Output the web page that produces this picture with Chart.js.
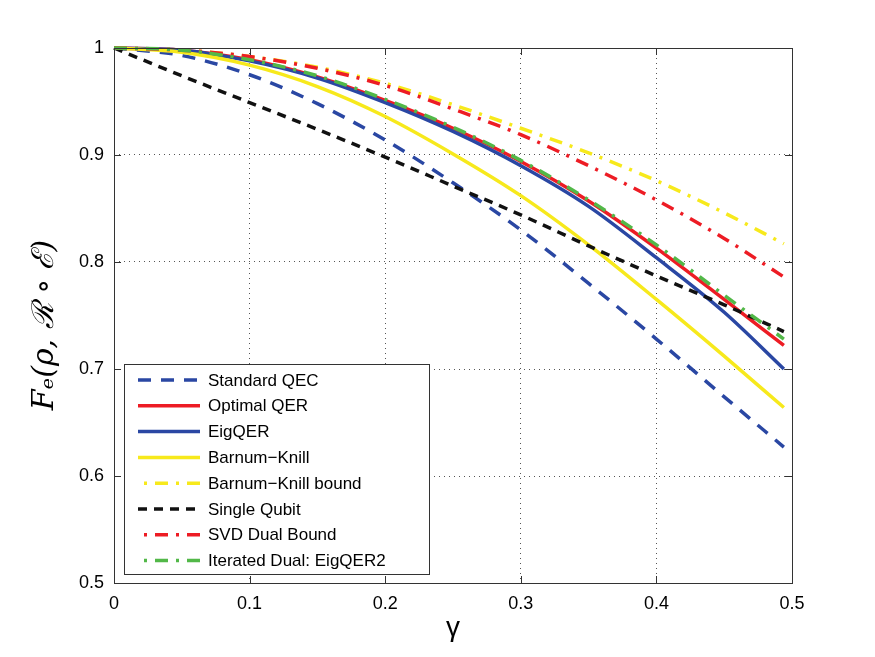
<!DOCTYPE html>
<html>
<head>
<meta charset="utf-8">
<script src="https://cdn.jsdelivr.net/npm/chart.js@4.4.1/dist/chart.umd.min.js"></script>
<style>
  html, body { margin: 0; padding: 0; background: #fff; }
  #wrap { width: 875px; height: 657px; position: relative; }
</style>
</head>
<body>
<div id="wrap"><canvas id="fidelityChart"></canvas></div>
<script>
// === data ===
const gamma = [0, 0.05, 0.1, 0.15, 0.2, 0.25, 0.3, 0.35, 0.4, 0.45, 0.494];

const standardQEC  = [1, 0.993, 0.975, 0.948, 0.914, 0.874, 0.830, 0.780, 0.728, 0.674, 0.627];
const optimalQER   = [1, 0.998, 0.989, 0.973, 0.951, 0.925, 0.894, 0.857, 0.813, 0.765, 0.722];
const eigQER       = [1, 0.998, 0.988, 0.972, 0.949, 0.922, 0.890, 0.852, 0.804, 0.753, 0.700];
const barnumKnill  = [1, 0.996, 0.984, 0.964, 0.936, 0.901, 0.862, 0.816, 0.765, 0.712, 0.664];
const bkBound      = [1, 0.998, 0.992, 0.982, 0.967, 0.947, 0.925, 0.902, 0.876, 0.846, 0.817];
const singleQubit  = [1, 0.974, 0.949, 0.924, 0.898, 0.871, 0.844, 0.815, 0.787, 0.760, 0.735];
const svdDual      = [1, 0.998, 0.992, 0.981, 0.965, 0.943, 0.919, 0.890, 0.858, 0.822, 0.786];
const iteratedDual = [1, 0.998, 0.989, 0.974, 0.952, 0.926, 0.895, 0.858, 0.816, 0.769, 0.728];

const seriesNames = ['Standard QEC', 'Optimal QER', 'EigQER', 'Barnum\u2212Knill',
  'Barnum\u2212Knill bound', 'Single Qubit', 'SVD Dual Bound', 'Iterated Dual: EigQER2'];
const seriesValues = [standardQEC, optimalQER, eigQER, barnumKnill,
  bkBound, singleQubit, svdDual, iteratedDual];

const xTickValues = [0, 0.1, 0.2, 0.3, 0.4, 0.5];
const xTickLabels = ['0', '0.1', '0.2', '0.3', '0.4', '0.5'];
const yTickValues = [0.5, 0.6, 0.7, 0.8, 0.9, 1];
const yTickLabels = ['0.5', '0.6', '0.7', '0.8', '0.9', '1'];

// === styles ===
const BLUE = '#2a47a3', RED = '#ed1c24', YELLOW = '#f7e91c', GREEN = '#52b848', BLACK = '#111111';
const DASHDOT = [13, 8, 3, 8];
const seriesStyle = [
  { color: BLUE,   dash: [13, 10] },
  { color: RED,    dash: [] },
  { color: BLUE,   dash: [] },
  { color: YELLOW, dash: [] },
  { color: YELLOW, dash: DASHDOT },
  { color: BLACK,  dash: [9, 7] },
  { color: RED,    dash: DASHDOT },
  { color: GREEN,  dash: DASHDOT }
];

const datasets = seriesNames.map((name, i) => ({
  label: name,
  data: gamma.map((g, k) => ({ x: g, y: seriesValues[i][k] })),
  borderColor: seriesStyle[i].color,
  borderDash: seriesStyle[i].dash,
  borderWidth: 3.5,
  pointRadius: 0,
  fill: false,
  cubicInterpolationMode: 'monotone',
  clip: false,
  order: seriesNames.length - i // later series on top, like MATLAB
}));

// box, inward ticks and the in-axes legend
const framePlugin = {
  id: 'matlabFrame',
  afterDraw(chart) {
    const { ctx, chartArea: a, scales } = chart;
    ctx.save();
    ctx.strokeStyle = '#333';
    ctx.lineWidth = 1;
    ctx.setLineDash([]);
    ctx.strokeRect(a.left + 0.5, a.top + 0.5, a.right - a.left, a.bottom - a.top);
    const tl = 7;
    ctx.beginPath();
    xTickValues.forEach(v => {
      const px = Math.round(scales.x.getPixelForValue(v)) + 0.5;
      ctx.moveTo(px, a.bottom); ctx.lineTo(px, a.bottom - tl);
      ctx.moveTo(px, a.top); ctx.lineTo(px, a.top + tl);
    });
    yTickValues.forEach(v => {
      const py = Math.round(scales.y.getPixelForValue(v)) + 0.5;
      ctx.moveTo(a.left, py); ctx.lineTo(a.left + tl, py);
      ctx.moveTo(a.right, py); ctx.lineTo(a.right - tl, py);
    });
    ctx.stroke();

    // legend
    const bx = a.left + 10, bw = 305, bh = 210, by = a.bottom - 9 - bh;
    ctx.fillStyle = '#fff';
    ctx.fillRect(bx, by, bw, bh);
    ctx.strokeStyle = '#333';
    ctx.strokeRect(bx + 0.5, by + 0.5, bw, bh);
    ctx.font = '17px "Liberation Sans", Arial, sans-serif';
    ctx.textBaseline = 'middle';
    ctx.textAlign = 'left';
    chart.data.datasets.forEach((ds, i) => {
      const yy = by + 16 + i * 25.8;
      ctx.strokeStyle = ds.borderColor;
      ctx.lineWidth = ds.borderWidth;
      ctx.setLineDash(ds.borderDash);
      ctx.lineDashOffset = ds.borderDash.length === 4 ? 15 : 0;
      ctx.beginPath();
      ctx.moveTo(bx + 14, yy); ctx.lineTo(bx + 76, yy);
      ctx.stroke();
      ctx.fillStyle = '#000';
      ctx.fillText(ds.label, bx + 84, yy + 1);
    });
    ctx.restore();
  }
};

document.addEventListener('DOMContentLoaded', () => {
  const ctx = document.getElementById('fidelityChart').getContext('2d');

  new Chart(ctx, {
    type: 'line',
    data: { datasets },
    plugins: [framePlugin],
    options: {
      responsive: true,
      maintainAspectRatio: false,
      animation: false,
      layout: { padding: { left: 0, top: 48, right: 83, bottom: 0 } },
      plugins: {
        legend: { display: false },
        tooltip: { enabled: false }
      },
      scales: {
        x: {
          type: 'linear',
          min: 0,
          max: 0.5,
          afterFit: s => { s.height = 74; },
          afterBuildTicks: s => { s.ticks = xTickValues.map(v => ({ value: v })); },
          ticks: {
            padding: 10,
            color: '#000',
            font: { family: '"Liberation Sans", Arial, sans-serif', size: 18 },
            callback: (v) => xTickLabels[xTickValues.indexOf(v)]
          },
          grid: { color: '#555', lineWidth: 1, drawTicks: false },
          border: { display: false, dash: [1, 4] },
          title: {
            display: true,
            text: '\u03b3',
            color: '#000',
            font: { family: '"Liberation Sans", Arial, sans-serif', size: 28 },
            padding: { top: 0, bottom: 12 }
          }
        },
        y: {
          min: 0.5,
          max: 1,
          afterFit: s => { s.width = 114; },
          afterBuildTicks: s => { s.ticks = yTickValues.map(v => ({ value: v })); },
          ticks: {
            padding: 10,
            color: '#000',
            font: { family: '"Liberation Sans", Arial, sans-serif', size: 18 },
            callback: (v) => yTickLabels[yTickValues.indexOf(v)]
          },
          grid: { color: '#555', lineWidth: 1, drawTicks: false },
          border: { display: false, dash: [1, 4] },
          title: {
            display: true,
            text: 'F\u2091(\u03c1, \u211b \u2218 \u2130)  ',
            color: '#000',
            font: { family: '"DejaVu Serif", serif', size: 30, style: 'italic' },
            padding: { top: 27, bottom: 0 }
          }
        }
      }
    }
  });
});
</script>
</body>
</html>
